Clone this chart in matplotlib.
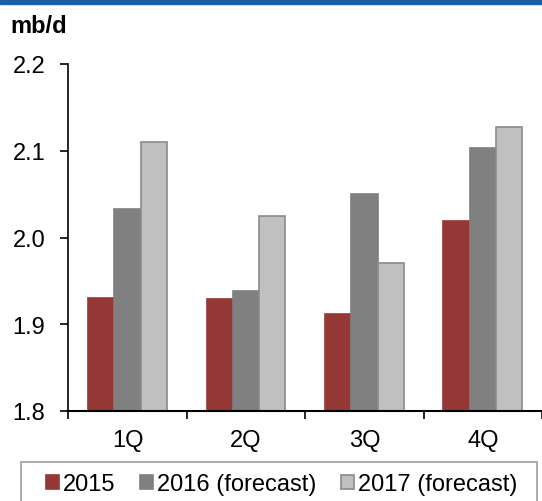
import numpy as np
import matplotlib
matplotlib.use("Agg")
import matplotlib.pyplot as plt
from matplotlib.patches import Rectangle

plt.rcParams['font.family'] = ['Liberation Sans', 'DejaVu Sans']

quarters = ["1Q", "2Q", "3Q", "4Q"]
series_names = ["2015", "2016 (forecast)", "2017 (forecast)"]
v2015 = [1.930, 1.929, 1.912, 2.019]
v2016 = [2.033, 1.938, 2.050, 2.103]
v2017 = [2.110, 2.025, 1.971, 2.127]

colors = ["#953735", "#808080", "#C0C0C0"]
edges = ["#953735", "#7f7f7f", "#8a8a8a"]

W, H = 542, 502
fig = plt.figure(figsize=(W / 100, H / 100), dpi=100)
ax = fig.add_axes([68.3 / W, (H - 412) / H, (542 - 68.3) / W, (412 - 65) / H])

x = np.arange(len(quarters))
w = 0.222
handles = []
for i, vals in enumerate([v2015, v2016, v2017]):
    b = ax.bar(x + (i - 1) * w, np.array(vals) - 1.8, w, bottom=1.8,
               color=colors[i], edgecolor=edges[i], linewidth=1.2,
               label=series_names[i])
    handles.append(b)

ax.set_ylim(1.8, 2.2)
ax.set_xlim(-0.5, 3.5)
ax.set_yticks([1.8, 1.9, 2.0, 2.1, 2.2])
ax.set_yticklabels(["1.8", "1.9", "2.0", "2.1", "2.2"], fontsize=17)
ax.set_xticks(x)
ax.set_xticklabels(quarters, fontsize=17)
ax.tick_params(axis='x', length=0, pad=13)
ax.set_xticks(np.arange(-0.5, 3.6, 1.0), minor=True)
ax.tick_params(axis='x', which='minor', length=6, width=1.2, direction='out')
ax.tick_params(axis='y', length=6, width=1.2, direction='out', pad=10.5)

for s in ["top", "right"]:
    ax.spines[s].set_visible(False)
ax.spines["left"].set_linewidth(1.2)
ax.spines["bottom"].set_linewidth(1.5)

fig.text(10 / W, (H - 33) / H, "mb/d", fontsize=17, fontweight='bold',
         va='baseline', ha='left')

# blue bar at top
fig.add_artist(Rectangle((0, 1 - 4.5 / H), 1, 4.5 / H, transform=fig.transFigure,
                         color="#1c5ea8", clip_on=False))

# legend frame
fig.add_artist(Rectangle((21 / W, -0.05), (536.7 - 21) / W, 0.05 + (H - 463) / H,
                         transform=fig.transFigure, fill=False,
                         edgecolor="#a6a6a6", linewidth=1.3, clip_on=False))

leg = fig.legend(handles=handles, loc='center left',
                 bbox_to_anchor=(46 / W, (H - 485.5) / H),
                 ncol=3, fontsize=17, frameon=False,
                 handlelength=0.55, handleheight=0.55, handletextpad=0.17,
                 columnspacing=1.05, borderpad=0, borderaxespad=0)

fig.savefig("out.png", dpi=100)
